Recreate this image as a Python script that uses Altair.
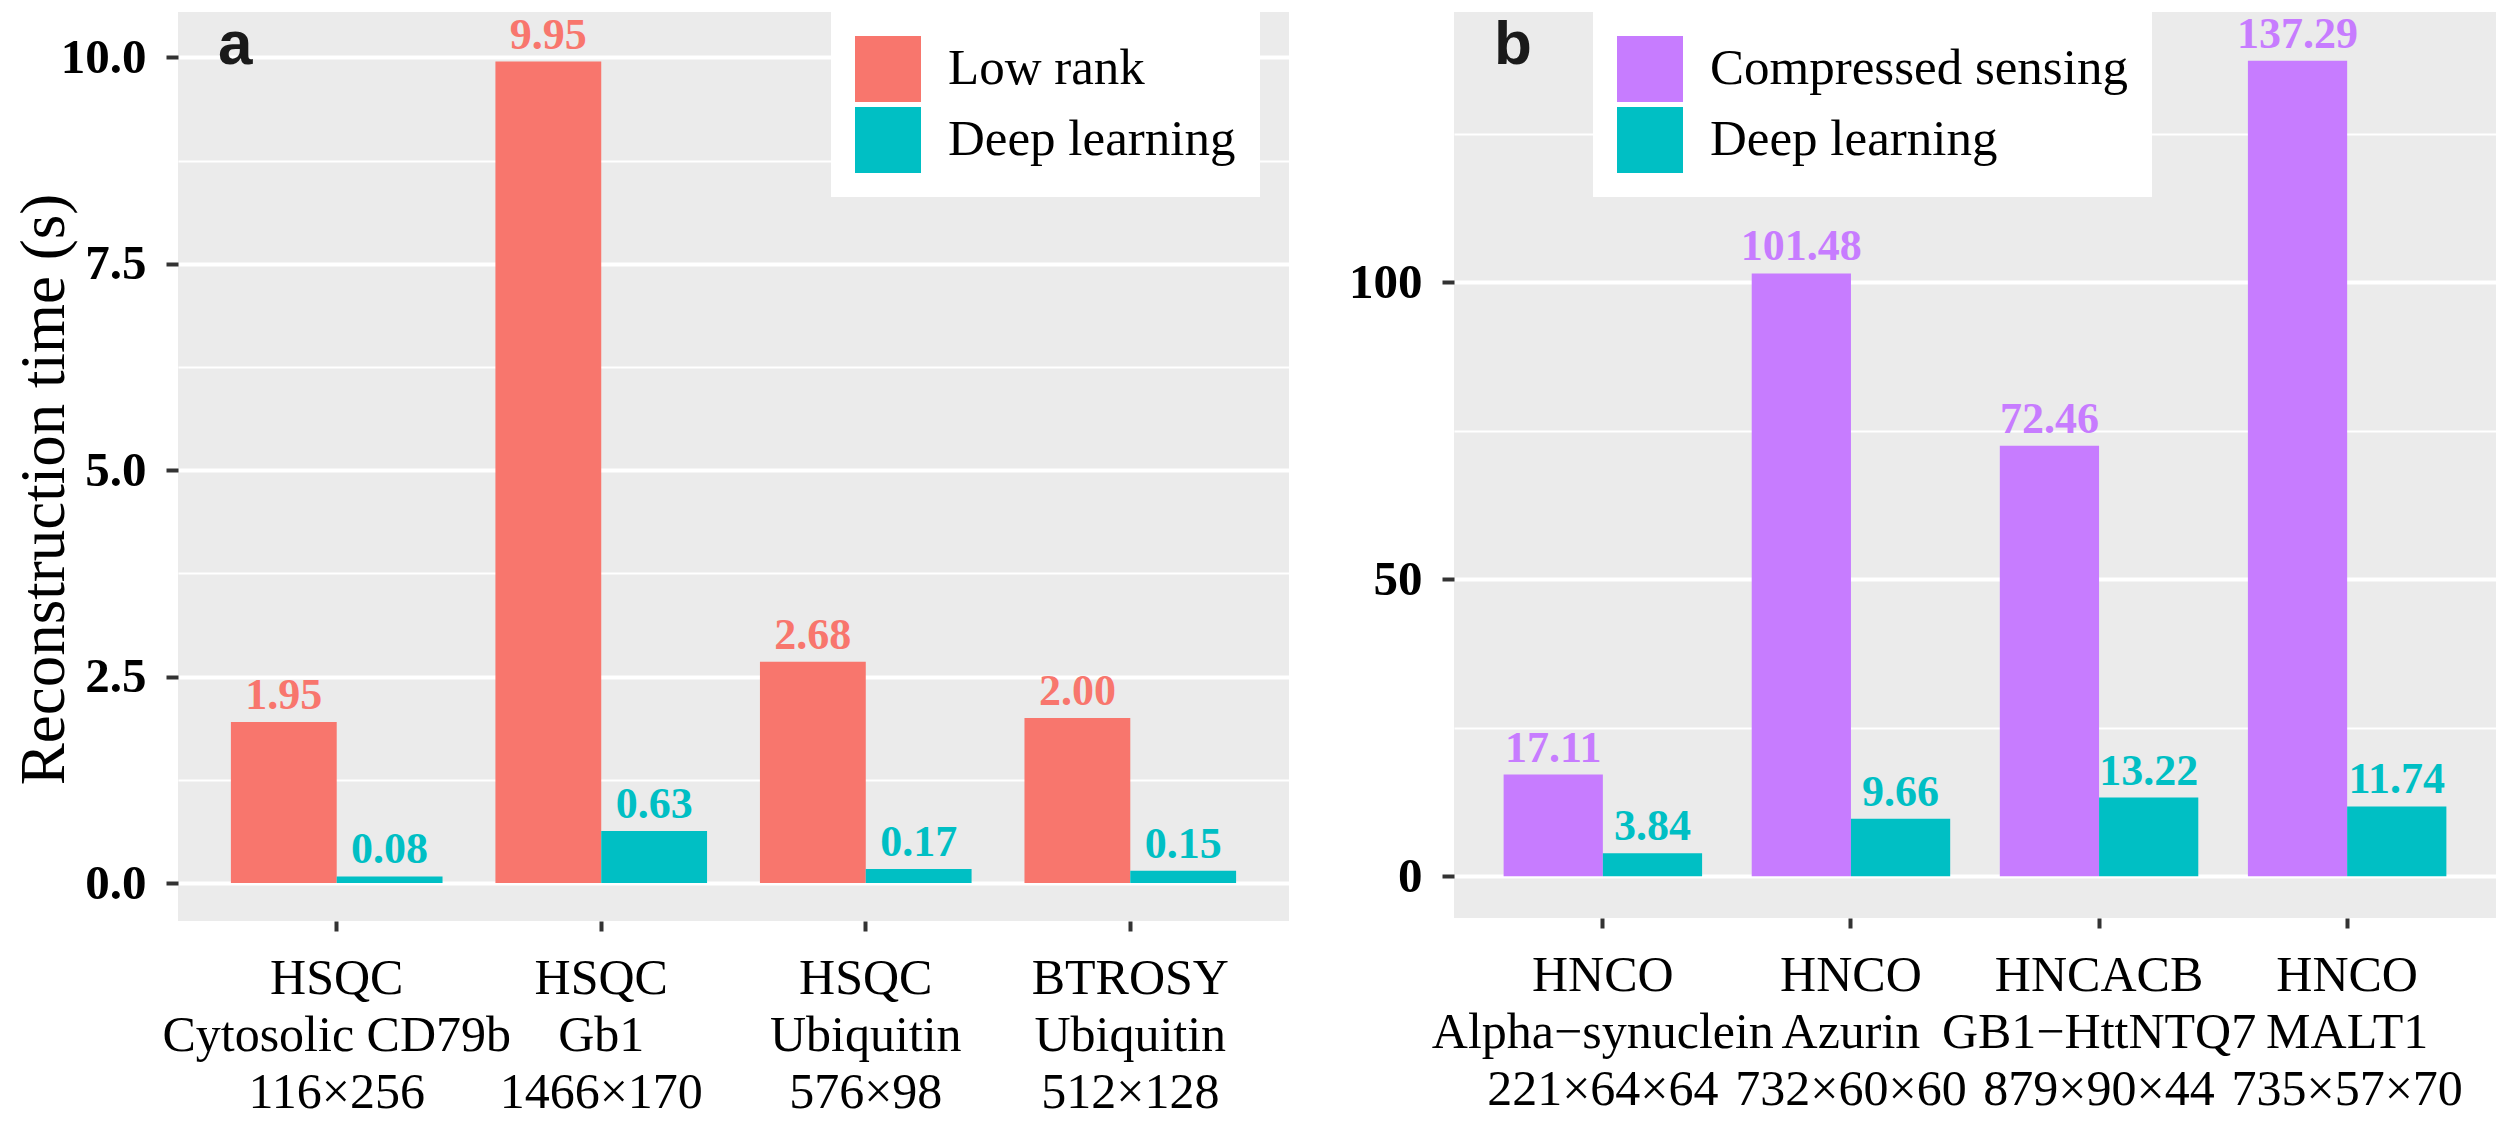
import altair as alt
import pandas as pd

# ---------------- data ----------------
a_datasets = ["HSQC\nCytosolic CD79b\n116×256", "HSQC\nGb1\n1466×170",
              "HSQC\nUbiquitin\n576×98", "BTROSY\nUbiquitin\n512×128"]
a_lowrank = [1.95, 9.95, 2.68, 2.00]
a_deep = [0.08, 0.63, 0.17, 0.15]
a_methods = ["Low rank", "Deep learning"]

b_datasets = ["HNCO\nAlpha−synuclein\n221×64×64", "HNCO\nAzurin\n732×60×60",
              "HNCACB\nGB1−HttNTQ7\n879×90×44", "HNCO\nMALT1\n735×57×70"]
b_cs = [17.11, 101.48, 72.46, 137.29]
b_deep = [3.84, 9.66, 13.22, 11.74]
b_methods = ["Compressed sensing", "Deep learning"]

a_ticks = [0, 1.25, 2.5, 3.75, 5, 6.25, 7.5, 8.75, 10]
b_ticks = [0, 25, 50, 75, 100, 125]

C_RED, C_CYAN, C_PURPLE = "#F8766D", "#00BFC4", "#C77CFF"

df_a = pd.DataFrame({
    "dataset": a_datasets * 2,
    "method": [a_methods[0]] * 4 + [a_methods[1]] * 4,
    "time": a_lowrank + a_deep,
})
df_b = pd.DataFrame({
    "dataset": b_datasets * 2,
    "method": [b_methods[0]] * 4 + [b_methods[1]] * 4,
    "time": b_cs + b_deep,
})

SERIF = "Liberation Serif"


def panel(df, cats, methods, colors, domain, ticks, major, fmt, tag,
          legend_x, legend_y, width, height, ytitle):
    is_major = f"abs(datum.value % {major}) < 1e-9"
    extra = {}
    if ytitle:
        extra = {"titleFont": SERIF, "titleFontSize": 63, "titleFontWeight": "normal",
                 "titleColor": "black", "titleX": -115, "titleY": 477,
                 "titleBaseline": "alphabetic", "titleAlign": "center",
                 "titleAngle": 270}
    yaxis = alt.Axis(
        values=ticks,
        labelExpr=f"{is_major} ? format(datum.value, '{fmt}') : ''",
        gridColor="white",
        gridWidth={"condition": {"test": is_major, "value": 4}, "value": 2},
        tickOpacity={"condition": {"test": is_major, "value": 1}, "value": 0},
        tickSize=12, tickWidth=4, tickColor="#333333",
        labelFont=SERIF, labelFontWeight="bold", labelFontSize=49,
        labelColor="black", labelPadding=20, labelOverlap=False,
        domain=False,
        title=ytitle if ytitle else None,
        **extra,
    )
    xaxis = alt.Axis(
        title=None, labelExpr="split(datum.label, '\\n')",
        labelFont=SERIF, labelFontSize=50, labelColor="black",
        labelLineHeight=57, labelPadding=22, labelAngle=0,
        labelBaseline="top", labelLimit=0,
        tickSize=10, tickWidth=4, tickColor="#333333",
        gridColor="white", gridWidth=4, domain=False, bandPosition=0.5,
    )
    x = alt.X("dataset:N", sort=cats,
              scale=alt.Scale(paddingInner=0, paddingOuter=0.1), axis=xaxis)
    xo = alt.XOffset("method:N", sort=methods,
                     scale=alt.Scale(domain=methods, paddingInner=0, paddingOuter=0.25))
    y = alt.Y("time:Q", scale=alt.Scale(domain=domain, nice=False, zero=False),
              axis=yaxis)
    color = alt.Color(
        "method:N",
        scale=alt.Scale(domain=methods, range=colors),
        legend=alt.Legend(
            orient="none", legendX=legend_x, legendY=legend_y, title=None,
            fillColor="white", padding=24, symbolType="square",
            symbolSize=4356, symbolStrokeWidth=0, symbolOpacity=1,
            labelFont=SERIF, labelFontSize=51, labelColor="black",
            rowPadding=5, labelOffset=27, labelLimit=0,
        ),
    )
    base = alt.Chart(df)
    bars = base.mark_bar().encode(x=x, xOffset=xo, y=y, y2=alt.datum(0), color=color)
    labels = base.mark_text(
        font=SERIF, fontWeight="bold", fontSize=44, baseline="alphabetic", dy=-13
    ).encode(x=x, xOffset=xo, y=y, text=alt.Text("time:Q", format=".2f"), color=color)
    tagc = alt.Chart(pd.DataFrame({"tag": [tag]})).mark_text(
        font="Liberation Sans", fontWeight="bold", fontSize=62,
        align="left", baseline="alphabetic", color="#1a1a1a"
    ).encode(x=alt.value(40), y=alt.value(52), text="tag:N")
    return alt.layer(bars, labels, tagc).properties(width=width, height=height)


left = panel(df_a, a_datasets, a_methods, [C_RED, C_CYAN], [-0.46, 10.55],
             a_ticks, 2.5, ".1f", "a", 653, 0, 1111, 909, "Reconstruction time (s)")
right = panel(df_b, b_datasets, b_methods, [C_PURPLE, C_CYAN], [-7.05, 145.5],
              b_ticks, 50, "d", "b", 139, 0, 1042, 906, None)

chart = alt.hconcat(left, right, spacing=59).resolve_scale(
    x="independent", y="independent", color="independent", xOffset="independent"
).resolve_legend(color="independent").properties(
    padding={"left": 4, "top": 4, "right": 0, "bottom": 0},
    background="white",
).configure_view(fill="#EBEBEB", stroke=None)

chart.save("out.html", embed_options={"renderer": "svg", "actions": False})
